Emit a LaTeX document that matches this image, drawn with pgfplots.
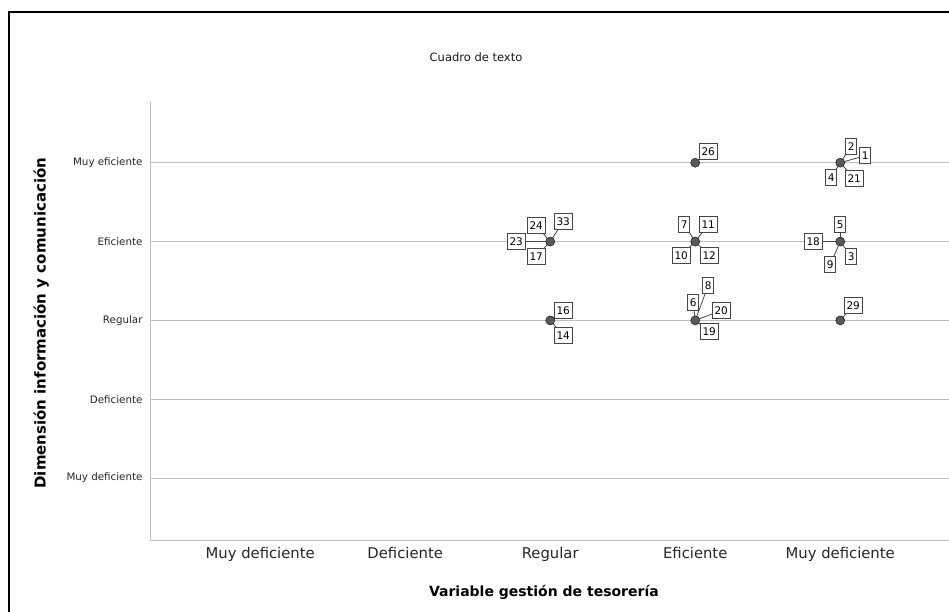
\documentclass[border=0pt]{standalone}
\usepackage{pgfplots}
\pgfplotsset{compat=1.18}
\usepackage{fontspec}
\setmainfont{DejaVu Sans}
\definecolor{gridc}{RGB}{190,190,190}
\definecolor{dotc}{RGB}{90,90,90}
\definecolor{boxc}{RGB}{70,70,70}
\newcommand{\lead}[3]{\draw[boxc, line width=0.8bp] (axis cs:#1) -- ++(#2bp,-#3bp);}
\newcommand{\lab}[4]{\node[draw=boxc, fill=white, line width=0.9bp, inner xsep=2.3bp, inner ysep=0pt, minimum height=16bp, font=\fontsize{10.5bp}{10.5bp}\selectfont, xshift=#2bp, yshift=-#3bp] at (axis cs:#1) {#4};}
\begin{document}
\begin{tikzpicture}
\useasboundingbox (0,0) rectangle (949bp,612bp);
\draw[black, line width=1.6bp] (9bp,-5bp) -- (9bp,600bp) -- (960bp,600bp);
\node[font=\fontsize{11.5bp}{11.5bp}\selectfont, text=black!90] at (476bp,555bp) {Cuadro de texto};
\begin{axis}[
  at={(150bp,72bp)}, anchor=south west,
  scale only axis, width=799bp, height=438bp,
  xmin=0.24, xmax=5.75, ymin=0.215, ymax=5.77,
  axis x line*=bottom, axis y line*=left,
  axis line style={gridc, line width=1bp},
  xtick={1,2,3,4,5},
  xticklabels={Muy deficiente, Deficiente, Regular, Eficiente, Muy deficiente},
  ytick={1,2,3,4,5},
  yticklabels={Muy deficiente, Deficiente, Regular, Eficiente, Muy eficiente},
  major tick length=0pt,
  ymajorgrids, grid style={gridc, line width=1bp},
  x tick label style={font=\fontsize{14.8bp}{14.8bp}\selectfont, text=black!85, yshift=-4bp},
  y tick label style={font=\fontsize{10.3bp}{10.3bp}\selectfont, text=black!85, xshift=-4bp},
  xlabel={Variable gestión de tesorería},
  ylabel={Dimensión información y comunicación},
  label style={font=\bfseries\fontsize{14bp}{14bp}\selectfont},
  xlabel style={at={(axis description cs:0.493,-0.119)}, anchor=center},
  ylabel style={at={(axis description cs:-0.136,0.495)}, anchor=center, font=\bfseries\fontsize{15bp}{15bp}\selectfont},
  clip=false,
]
% leader lines
\lead{3,4}{-14}{-16}\lead{3,4}{13}{-20}\lead{3,4}{-34}{0}\lead{3,4}{-14}{15}
\lead{3,3}{13}{-10}\lead{3,3}{13}{15}
\lead{4,5}{13}{-11}
\lead{4,4}{-11}{-17}\lead{4,4}{13}{-17}\lead{4,4}{-14}{14}\lead{4,4}{14}{14}
\lead{4,3}{13}{-35}\lead{4,3}{-2}{-18}\lead{4,3}{26}{-10}\lead{4,3}{14}{11}
\lead{5,5}{11}{-16}\lead{5,5}{25}{-7}\lead{5,5}{-9}{15}\lead{5,5}{14}{16}
\lead{5,4}{0}{-17}\lead{5,4}{-27}{0}\lead{5,4}{11}{15}\lead{5,4}{-10}{23}
\lead{5,3}{13}{-15}
\addplot[only marks, mark=*, mark size=4.5bp, mark options={fill=dotc, draw=black!85, line width=0.6bp}]
  coordinates {(3,4) (3,3) (4,5) (4,4) (4,3) (5,5) (5,4) (5,3)};
% boxes
\lab{3,4}{-14}{-16}{24}\lab{3,4}{13}{-20}{33}\lab{3,4}{-34}{0}{23}\lab{3,4}{-14}{15}{17}
\lab{3,3}{13}{-10}{16}\lab{3,3}{13}{15}{14}
\lab{4,5}{13}{-11}{26}
\lab{4,4}{-11}{-17}{7}\lab{4,4}{13}{-17}{11}\lab{4,4}{-14}{14}{10}\lab{4,4}{14}{14}{12}
\lab{4,3}{13}{-35}{8}\lab{4,3}{-2}{-18}{6}\lab{4,3}{26}{-10}{20}\lab{4,3}{14}{11}{19}
\lab{5,5}{11}{-16}{2}\lab{5,5}{25}{-7}{1}\lab{5,5}{-9}{15}{4}\lab{5,5}{14}{16}{21}
\lab{5,4}{0}{-17}{5}\lab{5,4}{-27}{0}{18}\lab{5,4}{11}{15}{3}\lab{5,4}{-10}{23}{9}
\lab{5,3}{13}{-15}{29}
\end{axis}
\end{tikzpicture}
\end{document}
